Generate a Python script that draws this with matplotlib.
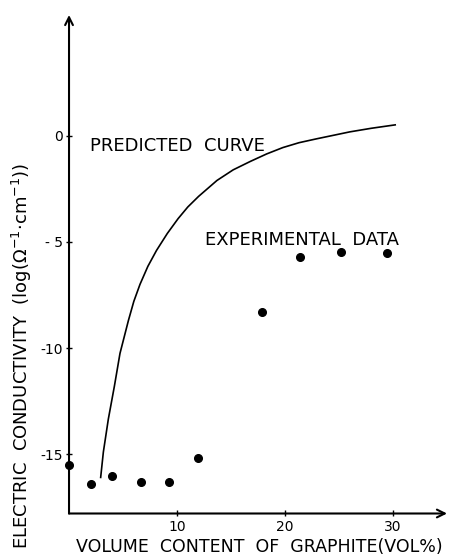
import matplotlib.pyplot as plt

# experimental data (graphite vol%, log conductivity)
exp_x = [0.0, 2.0, 4.0, 6.7, 9.3, 11.9, 17.9, 21.4, 25.2, 29.4]
exp_y = [-15.5, -16.4, -16.05, -16.3, -16.3, -15.2, -8.3, -5.7, -5.45, -5.5]

# predicted curve
curve_x = [2.93, 3.18, 3.64, 4.2, 4.72, 5.5, 6.0, 6.57, 7.3, 8.1, 9.1, 10.1, 11.0, 12.0, 13.7, 15.2, 16.8,
           18.3, 19.8, 21.3, 22.9, 24.5, 26.0, 28.0, 30.2]
curve_y = [-16.1, -14.9, -13.35, -11.8, -10.25, -8.7, -7.8, -7.0, -6.15, -5.4, -4.6, -3.9, -3.35, -2.85, -2.1, -1.6, -1.2,
           -0.85, -0.55, -0.32, -0.14, 0.03, 0.19, 0.36, 0.52]

xticks = [10, 20, 30]
yticks = [0, -5, -10, -15]
ytick_labels = ['0', '- 5', '-10', '-15']

plt.rcParams['font.family'] = ['DejaVu Sans']

fig = plt.figure(figsize=(4.67, 5.57), dpi=100)
ax = fig.add_axes([0.1478, 0.0781, 0.8094, 0.895])
ax.set_xlim(0, 35)
ax.set_ylim(-17.8, 5.7)

for s in ['top', 'right', 'left', 'bottom']:
    ax.spines[s].set_visible(False)

# axes drawn as arrows
ax.annotate('', xy=(1, 0), xytext=(0, 0), xycoords='axes fraction',
            arrowprops=dict(arrowstyle='->', lw=1.5, color='black', mutation_scale=14, shrinkA=0, shrinkB=0))
ax.annotate('', xy=(0, 1), xytext=(0, 0), xycoords='axes fraction',
            arrowprops=dict(arrowstyle='->', lw=1.5, color='black', mutation_scale=14, shrinkA=0, shrinkB=0))

ax.plot(curve_x, curve_y, color='black', lw=1.2)
ax.plot(exp_x, exp_y, 'o', color='black', markersize=5.5, clip_on=False)

ax.set_xticks(xticks)
ax.set_xticklabels([str(t) for t in xticks])
ax.set_yticks(yticks)
ax.set_yticklabels(ytick_labels)
ax.tick_params(direction='inout', length=5, width=1, labelsize=10, pad=2)

ax.text(1.94, -0.47, 'PREDICTED  CURVE', fontsize=13, va='center', ha='left')
ax.text(12.6, -4.9, 'EXPERIMENTAL  DATA', fontsize=13, va='center', ha='left')

fig.text(0.555, 1 - 552 / 557, 'VOLUME  CONTENT  OF  GRAPHITE(VOL%)', fontsize=12.5,
         ha='center', va='baseline')
fig.text(0.047, 0.361, r'ELECTRIC  CONDUCTIVITY  (log($\Omega^{-1}$$\cdot$cm$^{-1}$))',
         fontsize=13, rotation=90, ha='center', va='center')

fig.savefig('out.png', dpi=100)
